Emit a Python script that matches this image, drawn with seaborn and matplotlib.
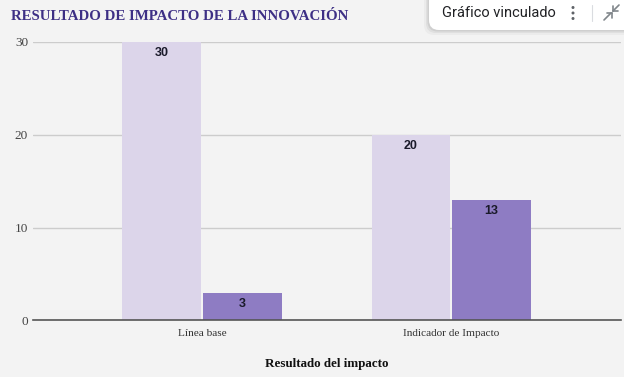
import matplotlib
matplotlib.use("Agg")
import matplotlib.pyplot as plt
from matplotlib.lines import Line2D
from matplotlib.patches import FancyBboxPatch, Circle
from matplotlib.transforms import IdentityTransform
import pandas as pd
import seaborn as sns

categories = ["Línea base", "Indicador de Impacto"]
series_names = ["Serie 1", "Serie 2"]
serie_1 = [30, 20]
serie_2 = [3, 13]
y_ticks = [0, 10, 20, 30]
colors = ["#dcd5ea", "#8e7cc3"]

W, H = 624, 377
BG = "#f3f3f3"
sns.set_theme(style="white", rc={"figure.facecolor": BG, "axes.facecolor": BG})
plt.rcParams["font.family"] = ["Liberation Serif", "DejaVu Serif"]

df = pd.DataFrame({
    "cat": categories * 2,
    "serie": [series_names[0]] * 2 + [series_names[1]] * 2,
    "val": serie_1 + serie_2,
})

fig = plt.figure(figsize=(W / 100, H / 100), dpi=100)
ax = fig.add_axes([33 / W, 1 - 320.4 / H, 588 / W, 278.4 / H])
sns.barplot(data=df, x="cat", y="val", hue="serie", order=categories,
            palette=colors, width=0.648, gap=0.025, saturation=1,
            edgecolor="none", linewidth=0,
            legend=False, ax=ax, zorder=3)
ax.set_xlim(-0.678, 1.681)
ax.set_ylim(0, 30)
ax.set_yticks(y_ticks)
ax.set_yticklabels([str(v) for v in y_ticks], fontsize=9.5, color="#444444")
ax.tick_params(axis="both", length=0)
ax.tick_params(axis="y", pad=3.5)
ax.tick_params(axis="x", pad=6, labelsize=8.1, labelcolor="#333333")
ax.grid(axis="y", color="#cccccc", lw=1, zorder=0)
ax.set_axisbelow(True)
for s in ["top", "right", "left"]:
    ax.spines[s].set_visible(False)
ax.spines["bottom"].set_color("#555555")
ax.spines["bottom"].set_linewidth(1.2)
ax.spines["bottom"].set_zorder(5)
ax.set_ylabel("")
ax.set_xlabel("")

for cont in ax.containers:
    ax.bar_label(cont, padding=-12.5, fontsize=9, fontweight="bold", color="#1a1a2a",
                 family="Liberation Sans", zorder=6)

fig.text(11 / W, 1 - 16 / H, "RESULTADO DE IMPACTO DE LA INNOVACIÓN", fontsize=10.7,
         fontweight="bold", color="#3d2f85", va="center", ha="left")
fig.text(326.5 / W, 1 - 363.5 / H, "Resultado del impacto", fontsize=9.35,
         fontweight="bold", color="#111111", va="center", ha="center")

# Floating "linked chart" card overlay (pixel coordinates, y from top)
identity = IdentityTransform()
def Y(y):
    return H - y
for off, alpha in [(5, 0.03), (3, 0.05), (1.5, 0.07)]:
    fig.add_artist(FancyBboxPatch((429 - off, Y(30 + off)), 230, 60 + off,
                                  boxstyle="round,pad=0,rounding_size=10",
                                  transform=identity, fc="#000000", ec="none",
                                  alpha=alpha, zorder=10))
fig.add_artist(FancyBboxPatch((429, Y(30)), 230, 60,
                              boxstyle="round,pad=0,rounding_size=10",
                              transform=identity, fc="#ffffff", ec="none", zorder=11))
fig.text(442 / W, 1 - 13 / H, "Gráfico vinculado", fontsize=10.55, family="Roboto",
         color="#202124", va="center", ha="left", zorder=12)
for yy in (7.5, 13, 18.5):
    fig.add_artist(Circle((573, Y(yy)), 1.5, transform=identity, fc="#5f6368", ec="none", zorder=12))
fig.add_artist(Line2D([592, 592], [Y(5), Y(21)], transform=identity, color="#dadce0", lw=0.8, zorder=12))
icon = [
    ([604, 611], [20, 13]), ([607, 612], [12.5, 12.5]), ([612, 612], [12.5, 18]),
    ([613, 619], [11, 5]), ([613, 613], [6, 11]), ([613, 618], [11, 11]),
]
for xs, ys in icon:
    fig.add_artist(Line2D(xs, [Y(v) for v in ys], transform=identity, color="#80868b", lw=1.2, zorder=12))

fig.savefig("out.png", dpi=100, facecolor=BG)
